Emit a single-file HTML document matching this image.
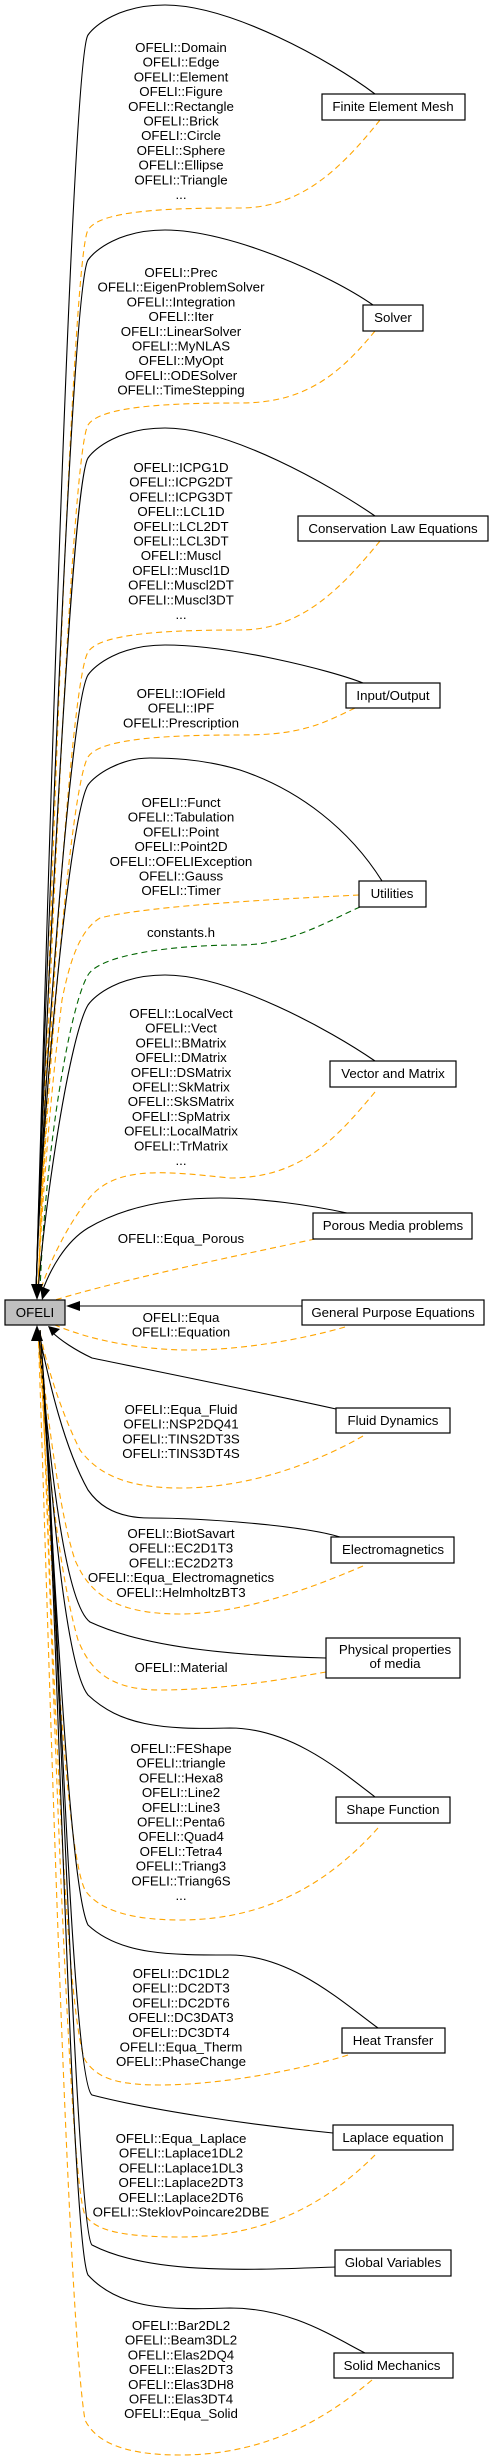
<!DOCTYPE html>
<html><head><meta charset="utf-8"><style>
html,body{margin:0;padding:0;background:#fff;}
svg{display:block;}
text{font-family:"Liberation Sans",Helvetica,Arial,sans-serif;font-size:13.3px;fill:#000;}
.s{fill:none;stroke:#000;stroke-width:1.1;}
.o{fill:none;stroke:#ffa500;stroke-width:1.1;stroke-dasharray:6,4;}
.g{fill:none;stroke:#006400;stroke-width:1.1;stroke-dasharray:6,4;}
.b{fill:#fff;stroke:#000;stroke-width:1.2;}
</style></head><body>
<svg width="493" height="2460" viewBox="0 0 493 2460" xmlns="http://www.w3.org/2000/svg">
<!-- upper edges -->
<path class="s" d="M375,94 C330,60 230,5 165,5 C120,5 95,25 88,35 C70,60 42,1100 36,1292"/>
<path class="o" d="M380,120 C340,170 300,208 240,208 C170,208 100,210 88,230 C70,260 45,1100 38,1292"/>
<path class="s" d="M373,305 C330,275 230,230 165,230 C120,230 95,250 88,260 C70,290 42,1100 36,1292"/>
<path class="o" d="M375,331 C335,380 300,403 240,403 C170,403 100,406 88,425 C70,455 45,1100 38,1292"/>
<path class="s" d="M375,516 C330,485 230,428 165,428 C120,428 95,448 88,458 C70,488 42,1100 36,1292"/>
<path class="o" d="M380,541 C340,590 300,630 240,630 C170,630 100,633 88,652 C70,682 45,1100 38,1292"/>
<path class="s" d="M363,683 C330,670 230,645 165,645 C120,645 95,665 88,675 C70,705 42,1100 36,1292"/>
<path class="o" d="M355,708 C320,725 300,735 240,735 C170,735 100,738 88,757 C70,787 45,1100 38,1292"/>
<path class="s" d="M382,881 C350,830 300,790 240,770 C200,758 165,758 150,758 C120,758 95,775 88,785 C70,815 42,1100 36,1292"/>
<path class="o" d="M359,895 C300,898 150,905 100,918 C80,930 70,960 62,1000 C50,1100 42,1200 38,1292"/>
<path class="g" d="M360,907 C330,920 290,945 240,945 C170,945 100,955 88,975 C70,1005 45,1150 40,1292"/>
<path class="s" d="M375,1061 C330,1030 230,975 165,975 C120,975 95,995 88,1005 C70,1035 45,1200 38,1292"/>
<path class="o" d="M375,1092 C335,1140 300,1178 230,1178 C170,1172 120,1165 92,1195 C70,1220 50,1260 40,1292"/>
<path class="s" d="M347,1213 C310,1205 260,1198 220,1198 C150,1198 110,1215 88,1228 C65,1242 50,1270 42,1292"/>
<path class="o" d="M315,1239 C240,1255 120,1280 55,1300"/>
<path class="s" d="M302,1306 L70,1306"/>
<path class="o" d="M345,1327 C300,1340 240,1350 190,1350 C140,1350 90,1340 55,1325"/>
<path class="s" d="M336,1409 C250,1390 150,1370 92,1358 C75,1350 60,1340 52,1332"/>
<path class="o" d="M363,1436 C330,1455 260,1488 180,1488 C120,1488 95,1470 80,1450 C60,1410 45,1360 40,1332"/>
<!-- lower edges -->
<path class="s" d="M340,1537 C300,1525 200,1518 150,1518 C110,1518 95,1500 88,1490 C60,1440 45,1360 38,1330"/>
<path class="o" d="M363,1566 C330,1580 250,1614 180,1614 C110,1614 88,1590 75,1560 C55,1500 42,1360 38,1330"/>
<path class="s" d="M326,1658 C250,1656 150,1650 90,1622 C60,1600 45,1400 38,1330"/>
<path class="o" d="M326,1672 C280,1680 220,1690 160,1690 C110,1690 90,1670 78,1640 C55,1560 42,1400 38,1330"/>
<path class="s" d="M375,1797 C340,1770 290,1728 230,1728 C160,1730 120,1725 88,1695 C60,1660 45,1400 38,1330"/>
<path class="o" d="M378,1828 C340,1870 280,1920 180,1920 C120,1920 95,1905 85,1890 C60,1840 45,1400 38,1330"/>
<path class="s" d="M378,2028 C340,2000 290,1955 230,1955 C170,1955 120,1955 88,1925 C65,1880 48,1400 38,1330"/>
<path class="o" d="M348,2055 C300,2070 220,2085 160,2085 C110,2085 95,2075 85,2060 C60,2000 45,1400 40,1330"/>
<path class="s" d="M333,2133 C250,2125 150,2110 92,2095 C70,2080 55,1500 40,1330"/>
<path class="o" d="M375,2155 C330,2200 270,2237 180,2237 C120,2237 95,2230 85,2215 C65,2170 45,1400 40,1330"/>
<path class="s" d="M335,2267 C250,2270 150,2275 92,2245 C75,2230 55,1500 40,1330"/>
<path class="s" d="M365,2353 C330,2335 290,2308 230,2308 C170,2310 120,2310 88,2275 C70,2240 55,1500 40,1330"/>
<path class="o" d="M372,2380 C330,2415 270,2455 180,2455 C120,2455 95,2440 85,2420 C65,2300 45,1500 38,1330"/>
<!-- arrowheads -->
<polygon points="31,1284 43,1284 37,1300" fill="#000"/>
<polygon points="40,1286 50,1290 42,1300" fill="#000"/>
<polygon points="80,1301 80,1311 66,1306" fill="#000"/>
<polygon points="31,1341 43,1341 37,1325" fill="#000"/>
<polygon points="52,1336 60,1329 48,1326" fill="#000"/>
<!-- nodes -->
<rect x="5" y="1300" width="60" height="25" fill="#bfbfbf" stroke="#000" stroke-width="1.2"/>
<text x="35" y="1317" text-anchor="middle">OFELI</text>
<rect class="b" x="322" y="94" width="143" height="26"/><text x="393" y="111" text-anchor="middle">Finite Element Mesh</text>
<rect class="b" x="363" y="305" width="60" height="26"/><text x="393" y="322" text-anchor="middle">Solver</text>
<rect class="b" x="298" y="516" width="190" height="25"/><text x="393" y="533" text-anchor="middle">Conservation Law Equations</text>
<rect class="b" x="346" y="683" width="94" height="25"/><text x="393" y="700" text-anchor="middle">Input/Output</text>
<rect class="b" x="359" y="881" width="67" height="26"/><text x="392" y="898" text-anchor="middle">Utilities</text>
<rect class="b" x="330" y="1061" width="126" height="26"/><text x="393" y="1078" text-anchor="middle">Vector and Matrix</text>
<rect class="b" x="313" y="1213" width="159" height="26"/><text x="393" y="1230" text-anchor="middle">Porous Media problems</text>
<rect class="b" x="302" y="1300" width="182" height="25"/><text x="393" y="1317" text-anchor="middle">General Purpose Equations</text>
<rect class="b" x="336" y="1408" width="114" height="25"/><text x="393" y="1425" text-anchor="middle">Fluid Dynamics</text>
<rect class="b" x="331" y="1537" width="123" height="26"/><text x="393" y="1554" text-anchor="middle">Electromagnetics</text>
<rect class="b" x="326" y="1638" width="134" height="40"/><text x="395" y="1654" text-anchor="middle">Physical properties</text><text x="395" y="1668" text-anchor="middle">of media</text>
<rect class="b" x="336" y="1797" width="114" height="26"/><text x="393" y="1814" text-anchor="middle">Shape Function</text>
<rect class="b" x="342" y="2028" width="103" height="25"/><text x="393" y="2045" text-anchor="middle">Heat Transfer</text>
<rect class="b" x="333" y="2125" width="120" height="25"/><text x="393" y="2142" text-anchor="middle">Laplace equation</text>
<rect class="b" x="335" y="2250" width="116" height="26"/><text x="393" y="2267" text-anchor="middle">Global Variables</text>
<rect class="b" x="334" y="2353" width="119" height="25"/><text x="392" y="2370" text-anchor="middle">Solid Mechanics</text>
<!-- labels -->
<text text-anchor="middle" y="52"><tspan x="181">OFELI::Domain</tspan><tspan x="181" dy="14.7">OFELI::Edge</tspan><tspan x="181" dy="14.7">OFELI::Element</tspan><tspan x="181" dy="14.7">OFELI::Figure</tspan><tspan x="181" dy="14.7">OFELI::Rectangle</tspan><tspan x="181" dy="14.7">OFELI::Brick</tspan><tspan x="181" dy="14.7">OFELI::Circle</tspan><tspan x="181" dy="14.7">OFELI::Sphere</tspan><tspan x="181" dy="14.7">OFELI::Ellipse</tspan><tspan x="181" dy="14.7">OFELI::Triangle</tspan><tspan x="181" dy="14.7">...</tspan></text>
<text text-anchor="middle" y="277"><tspan x="181">OFELI::Prec</tspan><tspan x="181" dy="14.7">OFELI::EigenProblemSolver</tspan><tspan x="181" dy="14.7">OFELI::Integration</tspan><tspan x="181" dy="14.7">OFELI::Iter</tspan><tspan x="181" dy="14.7">OFELI::LinearSolver</tspan><tspan x="181" dy="14.7">OFELI::MyNLAS</tspan><tspan x="181" dy="14.7">OFELI::MyOpt</tspan><tspan x="181" dy="14.7">OFELI::ODESolver</tspan><tspan x="181" dy="14.7">OFELI::TimeStepping</tspan></text>
<text text-anchor="middle" y="472"><tspan x="181">OFELI::ICPG1D</tspan><tspan x="181" dy="14.7">OFELI::ICPG2DT</tspan><tspan x="181" dy="14.7">OFELI::ICPG3DT</tspan><tspan x="181" dy="14.7">OFELI::LCL1D</tspan><tspan x="181" dy="14.7">OFELI::LCL2DT</tspan><tspan x="181" dy="14.7">OFELI::LCL3DT</tspan><tspan x="181" dy="14.7">OFELI::Muscl</tspan><tspan x="181" dy="14.7">OFELI::Muscl1D</tspan><tspan x="181" dy="14.7">OFELI::Muscl2DT</tspan><tspan x="181" dy="14.7">OFELI::Muscl3DT</tspan><tspan x="181" dy="14.7">...</tspan></text>
<text text-anchor="middle" y="698"><tspan x="181">OFELI::IOField</tspan><tspan x="181" dy="14.7">OFELI::IPF</tspan><tspan x="181" dy="14.7">OFELI::Prescription</tspan></text>
<text text-anchor="middle" y="807"><tspan x="181">OFELI::Funct</tspan><tspan x="181" dy="14.7">OFELI::Tabulation</tspan><tspan x="181" dy="14.7">OFELI::Point</tspan><tspan x="181" dy="14.7">OFELI::Point2D</tspan><tspan x="181" dy="14.7">OFELI::OFELIException</tspan><tspan x="181" dy="14.7">OFELI::Gauss</tspan><tspan x="181" dy="14.7">OFELI::Timer</tspan></text>
<text text-anchor="middle" x="181" y="937">constants.h</text>
<text text-anchor="middle" y="1018"><tspan x="181">OFELI::LocalVect</tspan><tspan x="181" dy="14.7">OFELI::Vect</tspan><tspan x="181" dy="14.7">OFELI::BMatrix</tspan><tspan x="181" dy="14.7">OFELI::DMatrix</tspan><tspan x="181" dy="14.7">OFELI::DSMatrix</tspan><tspan x="181" dy="14.7">OFELI::SkMatrix</tspan><tspan x="181" dy="14.7">OFELI::SkSMatrix</tspan><tspan x="181" dy="14.7">OFELI::SpMatrix</tspan><tspan x="181" dy="14.7">OFELI::LocalMatrix</tspan><tspan x="181" dy="14.7">OFELI::TrMatrix</tspan><tspan x="181" dy="14.7">...</tspan></text>
<text text-anchor="middle" x="181" y="1243">OFELI::Equa_Porous</text>
<text text-anchor="middle" y="1322"><tspan x="181">OFELI::Equa</tspan><tspan x="181" dy="14.7">OFELI::Equation</tspan></text>
<text text-anchor="middle" y="1414"><tspan x="181">OFELI::Equa_Fluid</tspan><tspan x="181" dy="14.7">OFELI::NSP2DQ41</tspan><tspan x="181" dy="14.7">OFELI::TINS2DT3S</tspan><tspan x="181" dy="14.7">OFELI::TINS3DT4S</tspan></text>
<text text-anchor="middle" y="1538"><tspan x="181">OFELI::BiotSavart</tspan><tspan x="181" dy="14.7">OFELI::EC2D1T3</tspan><tspan x="181" dy="14.7">OFELI::EC2D2T3</tspan><tspan x="181" dy="14.7">OFELI::Equa_Electromagnetics</tspan><tspan x="181" dy="14.7">OFELI::HelmholtzBT3</tspan></text>
<text text-anchor="middle" x="181" y="1672">OFELI::Material</text>
<text text-anchor="middle" y="1753"><tspan x="181">OFELI::FEShape</tspan><tspan x="181" dy="14.7">OFELI::triangle</tspan><tspan x="181" dy="14.7">OFELI::Hexa8</tspan><tspan x="181" dy="14.7">OFELI::Line2</tspan><tspan x="181" dy="14.7">OFELI::Line3</tspan><tspan x="181" dy="14.7">OFELI::Penta6</tspan><tspan x="181" dy="14.7">OFELI::Quad4</tspan><tspan x="181" dy="14.7">OFELI::Tetra4</tspan><tspan x="181" dy="14.7">OFELI::Triang3</tspan><tspan x="181" dy="14.7">OFELI::Triang6S</tspan><tspan x="181" dy="14.7">...</tspan></text>
<text text-anchor="middle" y="1978"><tspan x="181">OFELI::DC1DL2</tspan><tspan x="181" dy="14.7">OFELI::DC2DT3</tspan><tspan x="181" dy="14.7">OFELI::DC2DT6</tspan><tspan x="181" dy="14.7">OFELI::DC3DAT3</tspan><tspan x="181" dy="14.7">OFELI::DC3DT4</tspan><tspan x="181" dy="14.7">OFELI::Equa_Therm</tspan><tspan x="181" dy="14.7">OFELI::PhaseChange</tspan></text>
<text text-anchor="middle" y="2143"><tspan x="181">OFELI::Equa_Laplace</tspan><tspan x="181" dy="14.7">OFELI::Laplace1DL2</tspan><tspan x="181" dy="14.7">OFELI::Laplace1DL3</tspan><tspan x="181" dy="14.7">OFELI::Laplace2DT3</tspan><tspan x="181" dy="14.7">OFELI::Laplace2DT6</tspan><tspan x="181" dy="14.7">OFELI::SteklovPoincare2DBE</tspan></text>
<text text-anchor="middle" y="2330"><tspan x="181">OFELI::Bar2DL2</tspan><tspan x="181" dy="14.7">OFELI::Beam3DL2</tspan><tspan x="181" dy="14.7">OFELI::Elas2DQ4</tspan><tspan x="181" dy="14.7">OFELI::Elas2DT3</tspan><tspan x="181" dy="14.7">OFELI::Elas3DH8</tspan><tspan x="181" dy="14.7">OFELI::Elas3DT4</tspan><tspan x="181" dy="14.7">OFELI::Equa_Solid</tspan></text>
</svg>
</body></html>
